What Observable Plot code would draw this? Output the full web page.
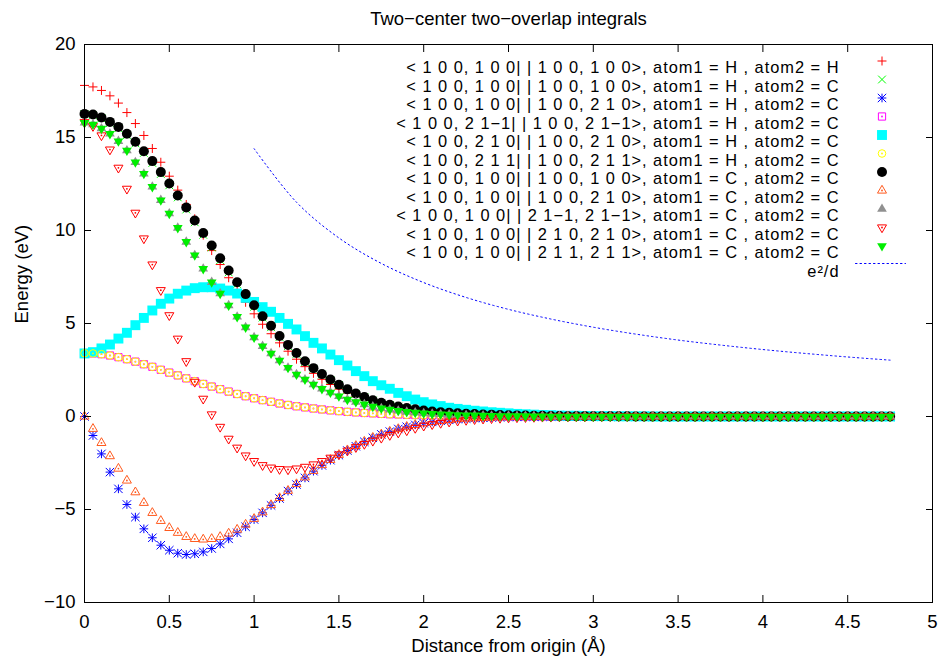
<!DOCTYPE html>
<html>
<head>
<meta charset="utf-8">
<script src="https://cdn.jsdelivr.net/npm/d3@7"></script>
<script src="https://cdn.jsdelivr.net/npm/@observablehq/plot@0.6"></script>
<style>
  html, body { margin: 0; padding: 0; background: #ffffff; }
  g[font-size="16.4"] text { letter-spacing: 0.98px; }
</style>
</head>
<body>
<div id="chart"></div>
<script>
// ---------- data ----------
const distance = [
  0.00, 0.05, 0.10, 0.15, 0.20, 0.25, 0.30, 0.35, 0.40, 0.45, 0.50, 0.55, 0.60, 0.65, 0.70, 0.75, 0.80, 0.85, 0.90, 0.95,
  1.00, 1.05, 1.10, 1.15, 1.20, 1.25, 1.30, 1.35, 1.40, 1.45, 1.50, 1.55, 1.60, 1.65, 1.70, 1.75, 1.80, 1.85, 1.90, 1.95,
  2.00, 2.05, 2.10, 2.15, 2.20, 2.25, 2.30, 2.35, 2.40, 2.45, 2.50, 2.55, 2.60, 2.65, 2.70, 2.75, 2.80, 2.85, 2.90, 2.95,
  3.00, 3.05, 3.10, 3.15, 3.20, 3.25, 3.30, 3.35, 3.40, 3.45, 3.50, 3.55, 3.60, 3.65, 3.70, 3.75, 3.80, 3.85, 3.90, 3.95,
  4.00, 4.05, 4.10, 4.15, 4.20, 4.25, 4.30, 4.35, 4.40, 4.45, 4.50, 4.55, 4.60, 4.65, 4.70, 4.75
];

// <100,100||100,100> H-H
const hh_s_s = [
  17.80, 17.72, 17.53, 17.24, 16.85, 16.34, 15.75, 15.11, 14.41, 13.67, 12.92, 12.17, 11.40, 10.63, 9.75, 8.92, 8.17, 7.46, 6.80, 6.14,
  5.52, 4.96, 4.45, 3.96, 3.51, 3.08, 2.68, 2.32, 2.00, 1.72, 1.47, 1.26, 1.07, 0.90, 0.76, 0.63, 0.52, 0.43, 0.35, 0.29,
  0.23, 0.19, 0.15, 0.12, 0.10, 0.08, 0.06, 0.05, 0.04, 0.03, 0.02, 0.02, 0.01, 0.01, 0.01, 0, 0, 0, 0, 0,
  0, 0, 0, 0, 0, 0, 0, 0, 0, 0, 0, 0, 0, 0, 0, 0, 0, 0, 0, 0,
  0, 0, 0, 0, 0, 0, 0, 0, 0, 0, 0, 0, 0, 0, 0, 0
];
// <100,100||100,100> H-C
const hc_s_s = [
  16.25, 16.20, 16.03, 15.78, 15.50, 15.12, 14.68, 14.17, 13.63, 13.04, 12.43, 11.78, 11.13, 10.44, 9.77, 9.09, 8.41, 7.75, 7.12, 6.49,
  5.90, 5.32, 4.80, 4.27, 3.79, 3.36, 2.93, 2.56, 2.25, 1.96, 1.69, 1.44, 1.22, 1.04, 0.86, 0.73, 0.62, 0.53, 0.45, 0.38,
  0.31, 0.26, 0.22, 0.19, 0.16, 0.14, 0.12, 0.11, 0.09, 0.08, 0.07, 0.06, 0.05, 0.04, 0.03, 0.03, 0.02, 0.02, 0.02, 0.01,
  0.01, 0.01, 0.01, 0.01, 0.01, 0, 0, 0, 0, 0, 0, 0, 0, 0, 0, 0, 0, 0, 0, 0,
  0, 0, 0, 0, 0, 0, 0, 0, 0, 0, 0, 0, 0, 0, 0, 0
];
// <100,100||100,210> H-C
const hc_s_pz = [
  0, -1.02, -2.01, -2.99, -3.89, -4.73, -5.41, -6.04, -6.52, -6.92, -7.19, -7.35, -7.42, -7.38, -7.28, -7.10, -6.85, -6.58, -6.25, -5.93,
  -5.54, -5.18, -4.78, -4.41, -4.01, -3.66, -3.30, -2.94, -2.63, -2.35, -2.08, -1.83, -1.60, -1.36, -1.14, -0.96, -0.81, -0.67, -0.55, -0.45,
  -0.36, -0.29, -0.23, -0.18, -0.14, -0.11, -0.09, -0.07, -0.05, -0.04, -0.03, -0.02, -0.02, -0.01, -0.01, -0.01, 0, 0, 0, 0,
  0, 0, 0, 0, 0, 0, 0, 0, 0, 0, 0, 0, 0, 0, 0, 0, 0, 0, 0, 0,
  0, 0, 0, 0, 0, 0, 0, 0, 0, 0, 0, 0, 0, 0, 0, 0
];
// <100,21-1||100,21-1> H-C
const hc_pm_pm = [
  3.40, 3.39, 3.35, 3.28, 3.19, 3.08, 2.95, 2.81, 2.67, 2.51, 2.36, 2.21, 2.05, 1.90, 1.75, 1.61, 1.47, 1.34, 1.21, 1.09,
  0.98, 0.88, 0.79, 0.70, 0.62, 0.55, 0.49, 0.43, 0.38, 0.33, 0.29, 0.25, 0.22, 0.19, 0.17, 0.14, 0.12, 0.11, 0.09, 0.08,
  0.07, 0.06, 0.05, 0.04, 0.04, 0.03, 0.03, 0.02, 0.02, 0.02, 0.01, 0.01, 0.01, 0.01, 0.01, 0, 0, 0, 0, 0,
  0, 0, 0, 0, 0, 0, 0, 0, 0, 0, 0, 0, 0, 0, 0, 0, 0, 0, 0, 0,
  0, 0, 0, 0, 0, 0, 0, 0, 0, 0, 0, 0, 0, 0, 0, 0
];
// <100,210||100,210> H-C
const hc_pz_pz = [
  3.39, 3.46, 3.66, 3.87, 4.19, 4.50, 4.91, 5.30, 5.70, 6.06, 6.34, 6.60, 6.77, 6.90, 6.95, 6.95, 6.88, 6.77, 6.61, 6.38,
  6.16, 5.88, 5.63, 5.30, 4.98, 4.68, 4.32, 3.96, 3.66, 3.33, 3.03, 2.74, 2.44, 2.17, 1.90, 1.68, 1.49, 1.27, 1.09, 0.91,
  0.77, 0.65, 0.56, 0.47, 0.41, 0.36, 0.31, 0.27, 0.23, 0.20, 0.17, 0.14, 0.12, 0.10, 0.08, 0.07, 0.05, 0.04, 0.04, 0.03,
  0.02, 0.02, 0.02, 0.01, 0.01, 0.01, 0.01, 0, 0, 0, 0, 0, 0, 0, 0, 0, 0, 0, 0, 0,
  0, 0, 0, 0, 0, 0, 0, 0, 0, 0, 0, 0, 0, 0, 0, 0
];
// <100,211||100,211> H-C
const hc_pp_pp = [
  3.40, 3.39, 3.35, 3.28, 3.19, 3.08, 2.95, 2.81, 2.67, 2.51, 2.36, 2.21, 2.05, 1.90, 1.75, 1.61, 1.47, 1.34, 1.21, 1.09,
  0.98, 0.88, 0.79, 0.70, 0.62, 0.55, 0.49, 0.43, 0.38, 0.33, 0.29, 0.25, 0.22, 0.19, 0.17, 0.14, 0.12, 0.11, 0.09, 0.08,
  0.07, 0.06, 0.05, 0.04, 0.04, 0.03, 0.03, 0.02, 0.02, 0.02, 0.01, 0.01, 0.01, 0.01, 0.01, 0, 0, 0, 0, 0,
  0, 0, 0, 0, 0, 0, 0, 0, 0, 0, 0, 0, 0, 0, 0, 0, 0, 0, 0, 0,
  0, 0, 0, 0, 0, 0, 0, 0, 0, 0, 0, 0, 0, 0, 0, 0
];
// <100,100||100,100> C-C
const cc_s_s = [
  16.27, 16.24, 16.08, 15.84, 15.57, 15.20, 14.77, 14.26, 13.73, 13.14, 12.53, 11.88, 11.24, 10.54, 9.87, 9.19, 8.51, 7.85, 7.22, 6.58,
  5.98, 5.39, 4.88, 4.33, 3.85, 3.41, 2.97, 2.60, 2.28, 1.99, 1.71, 1.46, 1.24, 1.05, 0.87, 0.74, 0.63, 0.54, 0.46, 0.39,
  0.32, 0.27, 0.23, 0.20, 0.17, 0.15, 0.13, 0.11, 0.10, 0.08, 0.07, 0.06, 0.05, 0.04, 0.04, 0.03, 0.03, 0.02, 0.02, 0.02,
  0.01, 0.01, 0.01, 0.01, 0.01, 0, 0, 0, 0, 0, 0, 0, 0, 0, 0, 0, 0, 0, 0, 0,
  0, 0, 0, 0, 0, 0, 0, 0, 0, 0, 0, 0, 0, 0, 0, 0
];
// <100,100||100,210> C-C
const cc_s_pz = [
  0, -0.66, -1.42, -2.13, -2.80, -3.44, -4.07, -4.64, -5.18, -5.61, -5.99, -6.25, -6.47, -6.58, -6.61, -6.58, -6.47, -6.29, -6.08, -5.81,
  -5.50, -5.15, -4.76, -4.38, -3.99, -3.63, -3.27, -2.92, -2.61, -2.33, -2.06, -1.81, -1.58, -1.35, -1.14, -0.96, -0.81, -0.67, -0.55, -0.45,
  -0.36, -0.29, -0.23, -0.18, -0.14, -0.11, -0.09, -0.07, -0.05, -0.04, -0.03, -0.02, -0.02, -0.01, -0.01, -0.01, 0, 0, 0, 0,
  0, 0, 0, 0, 0, 0, 0, 0, 0, 0, 0, 0, 0, 0, 0, 0, 0, 0, 0, 0,
  0, 0, 0, 0, 0, 0, 0, 0, 0, 0, 0, 0, 0, 0, 0, 0
];
// <100,100||21-1,21-1> C-C
const cc_pm_pm = [
  15.79, 15.70, 15.48, 15.20, 14.80, 14.30, 13.67, 13.05, 12.35, 11.63, 10.91, 10.14, 9.39, 8.67, 7.94, 7.22, 6.61, 5.97, 5.36, 4.79,
  4.25, 3.78, 3.39, 3.01, 2.62, 2.26, 1.99, 1.72, 1.49, 1.29, 1.09, 0.91, 0.78, 0.65, 0.53, 0.44, 0.37, 0.31, 0.25, 0.21,
  0.17, 0.14, 0.12, 0.10, 0.08, 0.07, 0.06, 0.05, 0.04, 0.03, 0.03, 0.02, 0.02, 0.01, 0.01, 0, 0, 0, 0, 0,
  0, 0, 0, 0, 0, 0, 0, 0, 0, 0, 0, 0, 0, 0, 0, 0, 0, 0, 0, 0,
  0, 0, 0, 0, 0, 0, 0, 0, 0, 0, 0, 0, 0, 0, 0, 0
];
// <100,100||210,210> C-C
const cc_pz_pz = [
  15.82, 15.61, 15.11, 14.35, 13.37, 12.24, 10.95, 9.57, 8.17, 6.79, 5.44, 4.18, 2.97, 1.86, 0.95, 0.11, -0.56, -1.20, -1.68, -2.10,
  -2.40, -2.62, -2.75, -2.83, -2.85, -2.80, -2.71, -2.58, -2.40, -2.22, -2.04, -1.84, -1.65, -1.48, -1.31, -1.15, -1.00, -0.87, -0.75, -0.62,
  -0.50, -0.42, -0.35, -0.28, -0.23, -0.19, -0.15, -0.12, -0.10, -0.08, -0.06, -0.05, -0.04, -0.03, -0.02, -0.02, -0.01, -0.01, -0.01, -0.01,
  0, 0, 0, 0, 0, 0, 0, 0, 0, 0, 0, 0, 0, 0, 0, 0, 0, 0, 0, 0,
  0, 0, 0, 0, 0, 0, 0, 0, 0, 0, 0, 0, 0, 0, 0, 0
];
// <100,100||211,211> C-C
const cc_pp_pp = [
  15.79, 15.70, 15.48, 15.20, 14.80, 14.30, 13.67, 13.05, 12.35, 11.63, 10.91, 10.14, 9.39, 8.67, 7.94, 7.22, 6.61, 5.97, 5.36, 4.79,
  4.25, 3.78, 3.39, 3.01, 2.62, 2.26, 1.99, 1.72, 1.49, 1.29, 1.09, 0.91, 0.78, 0.65, 0.53, 0.44, 0.37, 0.31, 0.25, 0.21,
  0.17, 0.14, 0.12, 0.10, 0.08, 0.07, 0.06, 0.05, 0.04, 0.03, 0.03, 0.02, 0.02, 0.01, 0.01, 0, 0, 0, 0, 0,
  0, 0, 0, 0, 0, 0, 0, 0, 0, 0, 0, 0, 0, 0, 0, 0, 0, 0, 0, 0,
  0, 0, 0, 0, 0, 0, 0, 0, 0, 0, 0, 0, 0, 0, 0, 0
];

// e^2/d reference curve
const coulombDistance = [1.00, 1.25, 1.50, 1.75, 2.00, 2.25, 2.50, 2.75, 3.00, 3.25, 3.50, 3.75, 4.00, 4.25, 4.50, 4.75];
const coulombEnergy   = [14.40, 11.52, 9.60, 8.23, 7.20, 6.40, 5.76, 5.24, 4.80, 4.43, 4.11, 3.84, 3.60, 3.39, 3.20, 3.03];

const seriesLabels = [
  "< 1 0 0, 1 0 0| | 1 0 0, 1 0 0>, atom1 = H , atom2 = H",
  "< 1 0 0, 1 0 0| | 1 0 0, 1 0 0>, atom1 = H , atom2 = C",
  "< 1 0 0, 1 0 0| | 1 0 0, 2 1 0>, atom1 = H , atom2 = C",
  "< 1 0 0, 2 1\u22121| | 1 0 0, 2 1\u22121>, atom1 = H , atom2 = C",
  "< 1 0 0, 2 1 0| | 1 0 0, 2 1 0>, atom1 = H , atom2 = C",
  "< 1 0 0, 2 1 1| | 1 0 0, 2 1 1>, atom1 = H , atom2 = C",
  "< 1 0 0, 1 0 0| | 1 0 0, 1 0 0>, atom1 = C , atom2 = C",
  "< 1 0 0, 1 0 0| | 1 0 0, 2 1 0>, atom1 = C , atom2 = C",
  "< 1 0 0, 1 0 0| | 2 1\u22121, 2 1\u22121>, atom1 = C , atom2 = C",
  "< 1 0 0, 1 0 0| | 2 1 0, 2 1 0>, atom1 = C , atom2 = C",
  "< 1 0 0, 1 0 0| | 2 1 1, 2 1 1>, atom1 = C , atom2 = C"
];
const coulombLabel = "e\u00b2/d";

const xTicks = [0, 0.5, 1, 1.5, 2, 2.5, 3, 3.5, 4, 4.5, 5];
const yTicks = [-10, -5, 0, 5, 10, 15, 20];

const titleText = "Two\u2212center two\u2212overlap integrals";
const xLabel = "Distance from origin (\u00c5)";
const yLabel = "Energy (eV)";

// ---------- styles ----------
const seriesValues = [hh_s_s, hc_s_s, hc_s_pz, hc_pm_pm, hc_pz_pz, hc_pp_pp, cc_s_s, cc_s_pz, cc_pm_pm, cc_pz_pz, cc_pp_pp];
const markerStyles = [
  {symbol: "plus",      stroke: "#ff0000", r: 3.0},
  {symbol: "times",     stroke: "#00ff00", r: 3.6},
  {symbol: "plus",      stroke: "#0000ff", r: 2.9, extra: {symbol: "times", r: 3.9}},
  {symbol: "square2",   stroke: "#ff00ff", r: 4.6, dot: true},
  {symbol: "square",    fill:   "#00ffff", r: 5.6},
  {symbol: "circle",    stroke: "#ffff00", r: 3.8, dot: true},
  {symbol: "circle",    fill:   "#000000", r: 5.0},
  {symbol: "triangle2", stroke: "#ff5a1e", r: 4.3, dot: true},
  {symbol: "triangle",  fill:   "#909090", r: 3.6},
  {symbol: "triangle2", stroke: "#ff0000", r: 4.3, dot: true, rotate: 180},
  {symbol: "triangle",  fill:   "#00ee00", r: 3.6, rotate: 180}
];
const FONT = "'Liberation Sans', Arial, Helvetica, sans-serif";
const FS = 18.5;        // title, axes
const LEG_FS = 16.4;    // legend rows (tight row spacing)

function markerMarks(data, st, opts) {
  const color = st.stroke || st.fill;
  const base = {
    ...opts,
    fill: st.fill || "none",
    stroke: st.stroke || "none",
    strokeWidth: 1,
    rotate: st.rotate || 0
  };
  const m = [Plot.dot(data, {...base, symbol: st.symbol, r: st.r})];
  if (st.extra) m.push(Plot.dot(data, {...base, symbol: st.extra.symbol, r: st.extra.r}));
  if (st.dot) m.push(Plot.dot(data, {...opts, r: 0.9, fill: color, stroke: "none"}));
  return m;
}

const marks = [];
// series
seriesValues.forEach((vals, k) => {
  const rows = distance.map((d, i) => ({d, v: vals[i]}));
  marks.push(...markerMarks(rows, markerStyles[k], {x: "d", y: "v"}));
});
// e^2/d
const coulombRows = coulombDistance.map((d, i) => ({d, e: coulombEnergy[i]}));
marks.push(Plot.line(coulombRows, {x: "d", y: "e", stroke: "#0000ff", strokeWidth: 1, strokeDasharray: "1.5,3", curve: "catmull-rom"}));

// legend
const LEG_Y0 = 17, LEG_DY = 18.5;
seriesLabels.forEach((lab, k) => {
  const dy = LEG_Y0 + LEG_DY * k;
  marks.push(Plot.text([lab], {frameAnchor: "top-right", dx: -93, dy, text: d => d, textAnchor: "end", fontSize: LEG_FS, fill: "black"}));
  marks.push(...markerMarks([lab], markerStyles[k], {frameAnchor: "top-right", dx: -50.5, dy: dy - 0.5}));
});
{
  const dy = LEG_Y0 + LEG_DY * seriesLabels.length;
  marks.push(Plot.text([coulombLabel], {frameAnchor: "top-right", dx: -93, dy, text: d => d, textAnchor: "end", fontSize: LEG_FS, fill: "black"}));
  marks.push(Plot.vector([coulombLabel], {
    frameAnchor: "top-right", dx: -77, dy: dy - 1.5, length: 50, anchor: "start",
    shape: {draw(ctx, l) { ctx.moveTo(0, 0); ctx.lineTo(l, 0); }},
    stroke: "#0000ff", strokeWidth: 1, strokeDasharray: "1.5,3"
  }));
}

// frame, ticks, labels
const fmtX = d => String(d);
const fmtY = d => (d < 0 ? "\u2212" + (-d) : String(d));
marks.push(
  Plot.frame({stroke: "black", strokeWidth: 1}),
  Plot.axisX(xTicks, {anchor: "bottom", tickSize: -7, tickFormat: () => "", label: null, stroke: "black"}),
  Plot.axisX(xTicks, {anchor: "top", tickSize: -7, tickFormat: () => "", label: null, stroke: "black"}),
  Plot.axisY(yTicks, {anchor: "left", tickSize: -7, tickFormat: () => "", label: null, stroke: "black"}),
  Plot.axisY(yTicks, {anchor: "right", tickSize: -7, tickFormat: () => "", label: null, stroke: "black"}),
  Plot.axisX(xTicks, {anchor: "bottom", tickSize: 0, tickPadding: 12, tickFormat: fmtX, label: null, fill: "black", fontSize: FS}),
  Plot.axisY(yTicks, {anchor: "left", tickSize: 0, tickPadding: 9, tickFormat: fmtY, label: null, fill: "black", fontSize: FS}),
  Plot.text([titleText], {frameAnchor: "top", dy: -33, text: d => d, fontSize: FS, fill: "black"}),
  Plot.text([xLabel], {frameAnchor: "bottom", dy: 49, text: d => d, fontSize: FS, fill: "black"}),
  Plot.text([yLabel], {frameAnchor: "left", dx: -62, rotate: -90, text: d => d, fontSize: FS, fill: "black"})
);

const chart = Plot.plot({
  width: 942,
  height: 665,
  marginLeft: 84,
  marginRight: 10,
  marginTop: 44,
  marginBottom: 63,
  style: {fontFamily: FONT, fontSize: FS + "px", color: "black", background: "white"},
  x: {domain: [0, 5]},
  y: {domain: [-10, 20]},
  marks
});
document.getElementById("chart").appendChild(chart);
</script>
</body>
</html>
